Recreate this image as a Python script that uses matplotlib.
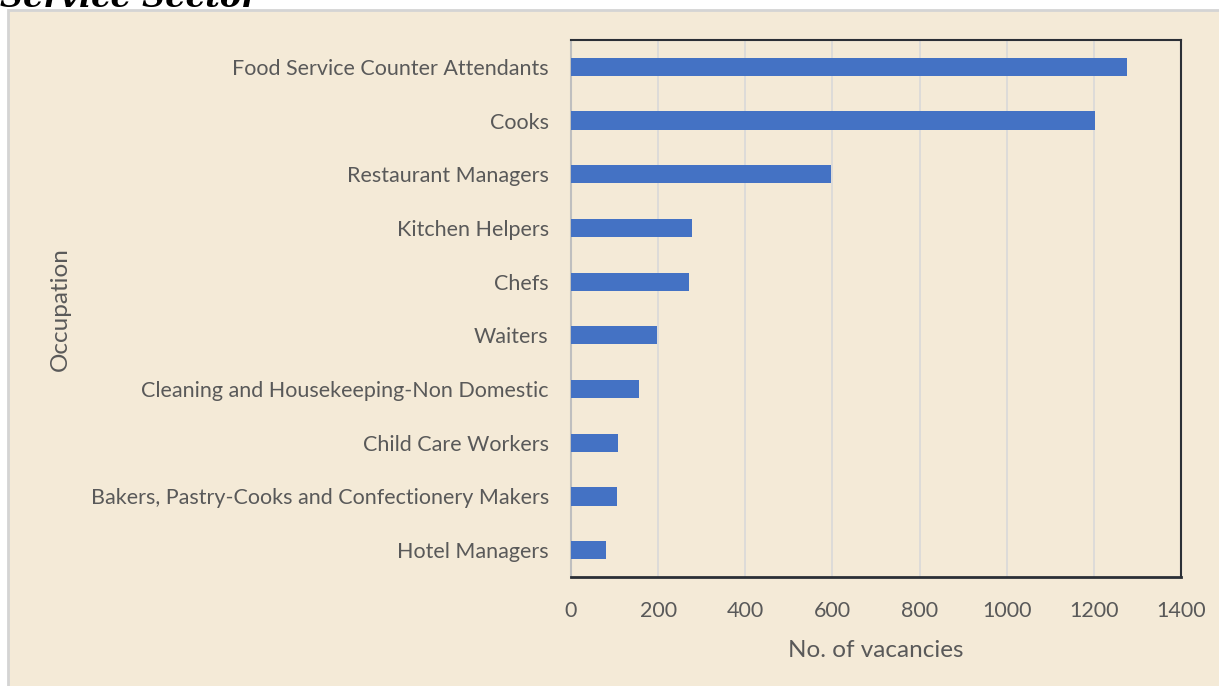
import matplotlib.pyplot as plt
from matplotlib.patches import Rectangle

occupations = [
    "Food Service Counter Attendants",
    "Cooks",
    "Restaurant Managers",
    "Kitchen Helpers",
    "Chefs",
    "Waiters",
    "Cleaning and Housekeeping-Non Domestic",
    "Child Care Workers",
    "Bakers, Pastry-Cooks and Confectionery Makers",
    "Hotel Managers",
]
vacancies = [1276, 1203, 597, 278, 271, 197, 156, 108, 106, 80]
x_ticks = [0, 200, 400, 600, 800, 1000, 1200, 1400]

plt.rcParams['font.family'] = ['Lato', 'DejaVu Sans']
W, H = 1219, 686
fig = plt.figure(figsize=(W / 100, H / 100), dpi=100, facecolor="white")

# parchment chart area with light border
bg = fig.add_axes([0, 0, 1, 1], zorder=-5)
bg.set_xlim(0, W)
bg.set_ylim(H, 0)
bg.axis("off")
bg.add_patch(Rectangle((8, 10), W, H, facecolor="#F4EAD7", edgecolor="#D4D4D4", lw=2))

# clipped title at the very top
fig.text(0.0, 1 - 7 / H, "Service Sector", family="DejaVu Serif", style="italic",
         weight="bold", fontsize=23, color="black", va="baseline", ha="left")

ax = fig.add_axes([571 / W, 1 - 577 / H, (1181 - 571) / W, (577 - 40) / H])
ax.set_facecolor("none")
ypos = list(range(len(occupations)))
ax.barh(ypos, vacancies, height=0.34, color="#4472C4", zorder=3)
ax.set_yticks(ypos)
ax.set_yticklabels(occupations)
ax.set_ylim(len(occupations) - 0.5, -0.5)
ax.set_xlim(0, 1400)
ax.set_xticks(x_ticks)
ax.tick_params(axis="both", length=0, labelsize=15.5, colors="#595959")
ax.tick_params(axis="x", pad=17)
ax.tick_params(axis="y", pad=16)
ax.grid(axis="x", color="#D9D9D9", lw=1.2, zorder=1)
for s in ["top", "right", "bottom"]:
    ax.spines[s].set_color("#2B2F36")
    ax.spines[s].set_linewidth(1.5)
ax.spines["bottom"].set_linewidth(2)
ax.spines["left"].set_color("#BFBFBF")
ax.spines["left"].set_linewidth(1.5)

ax.set_xlabel("No. of vacancies", fontsize=17.5, color="#595959", labelpad=14)
fig.text(60 / W, 1 - 309 / H, "Occupation", rotation=90, fontsize=17.5, color="#595959",
         ha="center", va="center")

fig.savefig("out.png", dpi=100, facecolor=fig.get_facecolor())
